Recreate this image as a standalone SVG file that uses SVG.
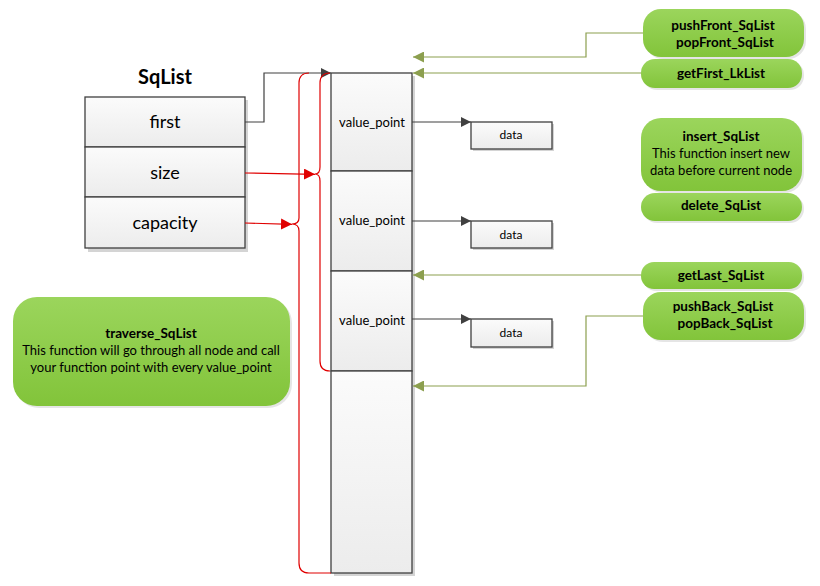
<svg xmlns="http://www.w3.org/2000/svg" width="820" height="586" viewBox="0 0 820 586">
<style>
.cell{fill:url(#gGray);stroke:#3f3f3f;stroke-width:1.3}
.sh{fill:#d4d4d4}
.gsh{fill:#000;opacity:.10}
.gbox{fill:url(#gGreen)}
.t{font-family:Lato,"Liberation Sans",sans-serif;fill:#000;text-anchor:middle}
.b{font-weight:bold}
.blk{fill:none;stroke:#404040;stroke-width:1.2}
.ol{fill:none;stroke:#8c9f4f;stroke-width:1.2}
.red{fill:none;stroke:#e00000;stroke-width:1.2}
</style>
<defs>
<linearGradient id="gGray" x1="0" y1="0" x2="0" y2="1">
<stop offset="0" stop-color="#fbfbfb"/><stop offset="1" stop-color="#ececec"/>
</linearGradient>
<linearGradient id="gGreen" x1="0" y1="0" x2="0" y2="1">
<stop offset="0" stop-color="#9bd55c"/><stop offset="1" stop-color="#82c43a"/>
</linearGradient>
<marker id="aBlk" viewBox="0 0 10 10" refX="10" refY="5" markerWidth="10" markerHeight="10" markerUnits="userSpaceOnUse" orient="auto"><path d="M0,0 L10,5 L0,10 z" fill="#404040"/></marker>
<marker id="aOl" viewBox="0 0 10 10" refX="10" refY="5" markerWidth="11" markerHeight="11" markerUnits="userSpaceOnUse" orient="auto"><path d="M0,0 L10,5 L0,10 z" fill="#8c9f4f"/></marker>
<marker id="aRed" viewBox="0 0 10 10" refX="10" refY="5" markerWidth="11" markerHeight="11" markerUnits="userSpaceOnUse" orient="auto"><path d="M0,0 L10,5 L0,10 z" fill="#e00000"/></marker>
</defs>
<rect width="820" height="586" fill="#fff"/>

<g id="sqlist">
<text class="t b" x="165" y="84" font-size="20">SqList</text>
<rect class="sh" x="88" y="100" width="160" height="152"/>
<g id="sq-first"><rect class="cell" x="85" y="97" width="160" height="50"/><text class="t" x="165" y="128" font-size="18">first</text></g>
<g id="sq-size"><rect class="cell" x="85" y="147" width="160" height="50"/><text class="t" x="165" y="179" font-size="18">size</text></g>
<g id="sq-capacity"><rect class="cell" x="85" y="197" width="160" height="51"/><text class="t" x="165" y="229" font-size="18">capacity</text></g>
</g>

<g id="array">
<rect class="sh" x="334" y="76" width="81" height="500"/>
<g id="cell1"><rect class="cell" x="331" y="73" width="81" height="98"/><text class="t" x="372" y="127" font-size="13">value_point</text></g>
<g id="cell2"><rect class="cell" x="331" y="171" width="81" height="100"/><text class="t" x="372" y="225" font-size="13">value_point</text></g>
<g id="cell3"><rect class="cell" x="331" y="271" width="81" height="100"/><text class="t" x="372" y="325" font-size="13">value_point</text></g>
<g id="cell4"><rect class="cell" x="331" y="371" width="81" height="202"/></g>
</g>

<g id="data1"><rect class="sh" x="473" y="124" width="81" height="27"/><rect class="cell" x="471" y="122" width="81" height="27"/><text class="t" x="511" y="139" font-size="12">data</text></g>
<g id="data2"><rect class="sh" x="473" y="223" width="81" height="27"/><rect class="cell" x="471" y="221" width="81" height="27"/><text class="t" x="511" y="239" font-size="12">data</text></g>
<g id="data3"><rect class="sh" x="473" y="321" width="81" height="28"/><rect class="cell" x="471" y="319" width="81" height="28"/><text class="t" x="511" y="337" font-size="12">data</text></g>

<g id="pushFront"><rect class="gsh" x="645" y="11" width="161" height="48" rx="18"/><rect class="gbox" x="643" y="9" width="161" height="48" rx="18"/><text class="t b" x="723" y="30" font-size="13.5">pushFront_SqList</text><text class="t b" x="725" y="47" font-size="13.5">popFront_SqList</text></g>
<g id="getFirst"><rect class="gsh" x="643" y="61" width="161" height="29" rx="14"/><rect class="gbox" x="641" y="59" width="161" height="29" rx="14"/><text class="t b" x="721" y="78" font-size="13.5">getFirst_LkList</text></g>
<g id="insert"><rect class="gsh" x="643" y="120" width="161" height="73" rx="20"/><rect class="gbox" x="641" y="118" width="161" height="73" rx="20"/><text class="t b" x="721" y="141" font-size="13.5">insert_SqList</text><text class="t" x="721" y="158" font-size="13">This function insert new</text><text class="t" x="721" y="175" font-size="13">data before current node</text></g>
<g id="delete"><rect class="gsh" x="643" y="195" width="161" height="28" rx="14"/><rect class="gbox" x="641" y="193" width="161" height="28" rx="14"/><text class="t b" x="721" y="210" font-size="13.5">delete_SqList</text></g>
<g id="getLast"><rect class="gsh" x="643" y="264" width="161" height="27" rx="13"/><rect class="gbox" x="641" y="262" width="161" height="27" rx="13"/><text class="t b" x="721" y="280" font-size="13.5">getLast_SqList</text></g>
<g id="pushBack"><rect class="gsh" x="645" y="294" width="161" height="48" rx="18"/><rect class="gbox" x="643" y="292" width="161" height="48" rx="18"/><text class="t b" x="723" y="311" font-size="13.5">pushBack_SqList</text><text class="t b" x="725" y="328" font-size="13.5">popBack_SqList</text></g>
<g id="traverse"><rect class="gsh" x="15" y="299" width="277" height="109" rx="24"/><rect class="gbox" x="13" y="297" width="277" height="109" rx="24"/><text class="t b" x="151" y="338" font-size="13.5">traverse_SqList</text><text class="t" x="151" y="355" font-size="13">This function will go through all node and call</text><text class="t" x="151" y="372" font-size="13">your function point with every value_point</text></g>

<g id="connectors">
<path class="blk" d="M245,122 H264 V73 H331" marker-end="url(#aBlk)"/>
<path class="blk" d="M412,122 H471" marker-end="url(#aBlk)"/>
<path class="blk" d="M412,221 H471" marker-end="url(#aBlk)"/>
<path class="blk" d="M412,319 H471" marker-end="url(#aBlk)"/>
<path class="red" d="M309,73 Q299,73 299,83 V218 Q299,224 292,224 Q299,224 299,231 V563 Q299,573 309,573 H331"/>
<path class="red" d="M330,73 Q320,73 320,83 V167 Q320,174 315,174 Q320,174 320,181 V361 Q320,371 330,371"/>
<path class="red" d="M245,173 L315,174.3" marker-end="url(#aRed)"/>
<path class="red" d="M245,223 L292,224.3" marker-end="url(#aRed)"/>
<path class="ol" d="M643,33 H586 V57 H413" marker-end="url(#aOl)"/>
<path class="ol" d="M641,73 H413" marker-end="url(#aOl)"/>
<path class="ol" d="M641,275 H413" marker-end="url(#aOl)"/>
<path class="ol" d="M643,316 H586 V386 H413" marker-end="url(#aOl)"/>
</g>
</svg>
